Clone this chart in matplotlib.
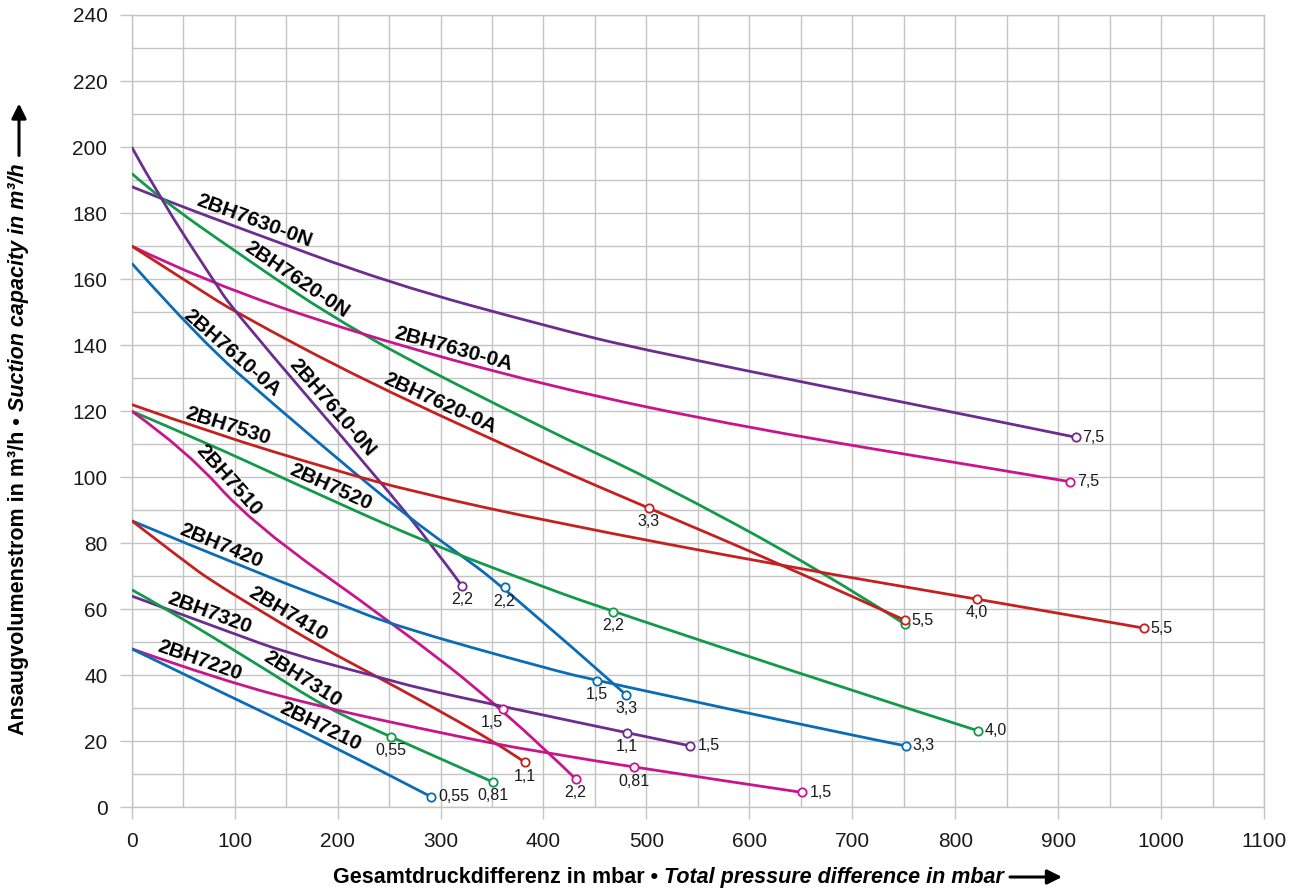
import matplotlib
matplotlib.use("Agg")
import matplotlib.pyplot as plt
import numpy as np
from matplotlib.path import Path
from matplotlib.patches import PathPatch
from matplotlib.transforms import IdentityTransform

plt.rcParams['font.family'] = ['Liberation Sans', 'DejaVu Sans']

PURPLE = '#6b2d8e'
GREEN = '#12994a'
MAGENTA = '#c7168c'
RED = '#c3211f'
BLUE = '#0b6cb5'
GRID = '#c4c4c4'

# curve data (mbar, m3/h)
x_7630_0N = [0, 27.5, 100, 251, 406, 497, 844, 917]
y_7630_0N = [188, 184.5, 176, 158.7, 145.5, 138.5, 116.8, 112.1]

x_7620_0N = [0, 27.5, 100, 218, 406, 503.5, 672, 751]
y_7620_0N = [192, 184.5, 168.5, 143.6, 113.8, 99.7, 71.4, 55.5]

x_7630_0A = [0, 70, 218, 406, 600, 843.5, 912]
y_7630_0A = [170, 159.5, 143.6, 127.4, 114.8, 102.2, 98.6]

x_7620_0A = [0, 66, 100, 228, 406, 502.5, 636, 751]
y_7620_0A = [170, 156.8, 150.1, 128.9, 103.5, 90.6, 72.9, 56.7]

x_7610_0N = [0, 27.5, 79, 100, 243, 293, 321]
y_7610_0N = [200, 184.5, 159.8, 150.1, 98.2, 78.9, 67]

x_7610_0A = [0, 66.3, 140, 218.6, 270.4, 309.2, 362.3, 480.5]
y_7610_0A = [164.8, 141.6, 121.5, 100.7, 87.6, 78.7, 66.6, 34.0]

x_7530 = [0, 80, 196, 273.6, 406, 636, 821, 983]
y_7530 = [122, 113.2, 102.2, 95.6, 86.5, 72.9, 63.1, 54.3]

x_7520 = [0, 69.6, 150.6, 280, 406, 468, 698, 822]
y_7520 = [120, 110.8, 99.2, 81, 66, 59.3, 35.5, 23.2]

x_7510 = [0, 53, 116.6, 254, 361, 431.3]
y_7510 = [120, 108.2, 86, 55.7, 29.8, 8.6]

x_7420 = [0, 118, 199, 255, 406, 451.7, 698, 752]
y_7420 = [86.8, 71.5, 62, 55, 41.8, 38.4, 21.9, 18.6]

x_7410 = [0, 53.4, 76.1, 118.2, 183, 238, 280, 357.8, 382]
y_7410 = [86.8, 74, 68.9, 60.8, 48.7, 39.6, 32.5, 18.9, 13.6]

x_7320 = [0, 100, 150.6, 238, 280, 361, 480.8, 542.7]
y_7320 = [64, 52.5, 46.8, 39.6, 36, 30.5, 22.6, 18.6]

x_7310 = [0, 24.3, 118.2, 189.4, 251.6, 351.3]
y_7310 = [65.9, 61.8, 44.1, 30, 21.4, 7.6]

x_7220 = [0, 85.8, 189.4, 280, 357.8, 406, 488.3, 651.5]
y_7220 = [48, 38.6, 30, 23.9, 18.9, 16.4, 12.1, 4.5]

x_7210 = [0, 85.8, 183, 290.8]
y_7210 = [48, 35, 20.6, 3.2]

curves = {
    "2BH7630-0N": (x_7630_0N, y_7630_0N, PURPLE),
    "2BH7620-0N": (x_7620_0N, y_7620_0N, GREEN),
    "2BH7630-0A": (x_7630_0A, y_7630_0A, MAGENTA),
    "2BH7620-0A": (x_7620_0A, y_7620_0A, RED),
    "2BH7610-0N": (x_7610_0N, y_7610_0N, PURPLE),
    "2BH7610-0A": (x_7610_0A, y_7610_0A, BLUE),
    "2BH7530": (x_7530, y_7530, RED),
    "2BH7520": (x_7520, y_7520, GREEN),
    "2BH7510": (x_7510, y_7510, MAGENTA),
    "2BH7420": (x_7420, y_7420, BLUE),
    "2BH7410": (x_7410, y_7410, RED),
    "2BH7320": (x_7320, y_7320, PURPLE),
    "2BH7310": (x_7310, y_7310, GREEN),
    "2BH7220": (x_7220, y_7220, MAGENTA),
    "2BH7210": (x_7210, y_7210, BLUE),
}

# motor power markers: (curve, point index, kW text, placement)
marks = [
    ("2BH7630-0N", -1, "7,5", "right"),
    ("2BH7630-0A", -1, "7,5", "right"),
    ("2BH7620-0N", -1, "", "right"),
    ("2BH7620-0A", 5, "3,3", "below"),
    ("2BH7620-0A", -1, "5,5", "right"),
    ("2BH7530", 6, "4,0", "below"),
    ("2BH7530", -1, "5,5", "right"),
    ("2BH7520", 5, "2,2", "below"),
    ("2BH7520", -1, "4,0", "right"),
    ("2BH7610-0N", -1, "2,2", "below"),
    ("2BH7610-0A", 6, "2,2", "below"),
    ("2BH7610-0A", -1, "3,3", "below"),
    ("2BH7420", 5, "1,5", "below"),
    ("2BH7420", -1, "3,3", "right"),
    ("2BH7510", 4, "1,5", "belowleft"),
    ("2BH7510", -1, "2,2", "below"),
    ("2BH7410", -1, "1,1", "below"),
    ("2BH7320", 6, "1,1", "below"),
    ("2BH7320", -1, "1,5", "right"),
    ("2BH7310", 4, "0,55", "below"),
    ("2BH7310", -1, "0,81", "below"),
    ("2BH7220", 6, "0,81", "below"),
    ("2BH7220", -1, "1,5", "right"),
    ("2BH7210", -1, "0,55", "right"),
]

# curve name labels sit just above their curve, centred at this x
name_x = {
    "2BH7630-0N": 115, "2BH7620-0N": 154, "2BH7630-0A": 310, "2BH7620-0A": 295,
    "2BH7610-0A": 90, "2BH7610-0N": 186, "2BH7530": 90, "2BH7520": 188.5,
    "2BH7510": 86, "2BH7420": 83, "2BH7410": 146.5, "2BH7320": 72,
    "2BH7310": 159.5, "2BH7220": 62, "2BH7210": 178,
}

W, H = 1301, 893
fig = plt.figure(figsize=(W / 100, H / 100), dpi=100)
ax = fig.add_axes([131.7 / W, 1 - 807.3 / H, (1264 - 131.7) / W, (807.3 - 15) / H])
ax.set_xlim(0, 1100)
ax.set_ylim(0, 240)


def curve_path(xs, ys):
    # quadratic bezier through the read points (smooth rendering of the polyline)
    pts = list(zip(xs, ys))
    if len(pts) < 3:
        return Path(pts)
    verts = [pts[0]]
    codes = [Path.MOVETO]
    for i in range(1, len(pts) - 1):
        if i < len(pts) - 2:
            end = ((pts[i][0] + pts[i + 1][0]) / 2, (pts[i][1] + pts[i + 1][1]) / 2)
        else:
            end = pts[i + 1]
        verts += [pts[i], end]
        codes += [Path.CURVE3, Path.CURVE3]
    return Path(verts, codes)


for name, (xs, ys, col) in curves.items():
    ax.add_patch(PathPatch(curve_path(xs, ys), fc='none', ec=col, lw=2,
                           capstyle='butt', zorder=3))

for name, idx, txt, place in marks:
    xs, ys, col = curves[name]
    z = 4 if name == "2BH7620-0N" else 5
    ax.plot(xs[idx], ys[idx], 'o', ms=6, mfc='white', mec=col, mew=1.3, zorder=z)
    if not txt:
        continue
    if place == "right":
        ax.annotate(txt, (xs[idx], ys[idx]), xytext=(5, 0), textcoords='offset points',
                    ha='left', va='center', fontsize=11.5, color='#1a1a1a', zorder=6)
    elif place == "belowleft":
        ax.annotate(txt, (xs[idx], ys[idx]), xytext=(-8, -4.5), textcoords='offset points',
                    ha='center', va='top', fontsize=11.5, color='#1a1a1a', zorder=6)
    else:
        ax.annotate(txt, (xs[idx], ys[idx]), xytext=(0, -4.5), textcoords='offset points',
                    ha='center', va='top', fontsize=11.5, color='#1a1a1a', zorder=6)

# curve names, rotated along the local slope of their curve
for name, lx in name_x.items():
    xs, ys, col = curves[name]
    ly = np.interp(lx, xs, ys)
    p0 = ax.transData.transform((lx - 20, np.interp(lx - 20, xs, ys)))
    p1 = ax.transData.transform((lx + 20, np.interp(lx + 20, xs, ys)))
    ang = np.degrees(np.arctan2(p1[1] - p0[1], p1[0] - p0[0]))
    d = 4.2
    off = (-np.sin(np.radians(ang)) * d, np.cos(np.radians(ang)) * d)
    ax.annotate(name, (lx, ly), xytext=off, textcoords='offset points', rotation=ang,
                rotation_mode='anchor', ha='center', va='baseline', fontsize=15,
                fontweight='bold', color='black', zorder=6)

ax.set_xticks(np.arange(0, 1101, 100))
ax.set_xticks(np.arange(0, 1101, 50), minor=True)
ax.set_yticks(np.arange(0, 241, 20))
ax.set_yticks(np.arange(0, 241, 10), minor=True)
ax.tick_params(which='major', length=8.5, width=1, color=GRID, labelsize=15,
               labelcolor='#1a1a1a', pad=9)
ax.tick_params(which='minor', length=0)
ax.grid(which='both', color=GRID, lw=1)
ax.set_axisbelow(True)
for s in ax.spines.values():
    s.set_color(GRID)
    s.set_linewidth(1)

# axis titles: bold + bold italic parts, followed by an arrow
fig.canvas.draw()
r = fig.canvas.get_renderer()
lab_kw = dict(fontsize=15.5, fontweight='bold', color='black', transform=IdentityTransform())

t1 = fig.text(333, 10, "Gesamtdruckdifferenz in mbar \u2022", ha='left', va='baseline', **lab_kw)
b1 = t1.get_window_extent(r)
t2 = fig.text(b1.x1 + 6, 10, "Total pressure difference in mbar", ha='left', va='baseline',
              style='italic', **lab_kw)
b2 = t2.get_window_extent(r)
ax.annotate("", xy=(b2.x1 + 58, 16), xytext=(b2.x1 + 6, 16), xycoords='figure pixels',
            textcoords='figure pixels',
            arrowprops=dict(arrowstyle='-|>', lw=2.2, color='black', mutation_scale=22,
                            shrinkA=0, shrinkB=0))

u1 = fig.text(18.5, H - 735, "Ansaugvolumenstrom in m\u00b3/h \u2022", rotation=90,
              ha='center', va='bottom', **lab_kw)
c1 = u1.get_window_extent(r)
u2 = fig.text(18.5, c1.y1 + 6, "Suction capacity in m\u00b3/h", rotation=90, ha='center',
              va='bottom', style='italic', **lab_kw)
c2 = u2.get_window_extent(r)
ax.annotate("", xy=(19, c2.y1 + 60), xytext=(19, c2.y1 + 8), xycoords='figure pixels',
            textcoords='figure pixels',
            arrowprops=dict(arrowstyle='-|>', lw=2.2, color='black', mutation_scale=22,
                            shrinkA=0, shrinkB=0))

fig.savefig("out.png", dpi=100)
